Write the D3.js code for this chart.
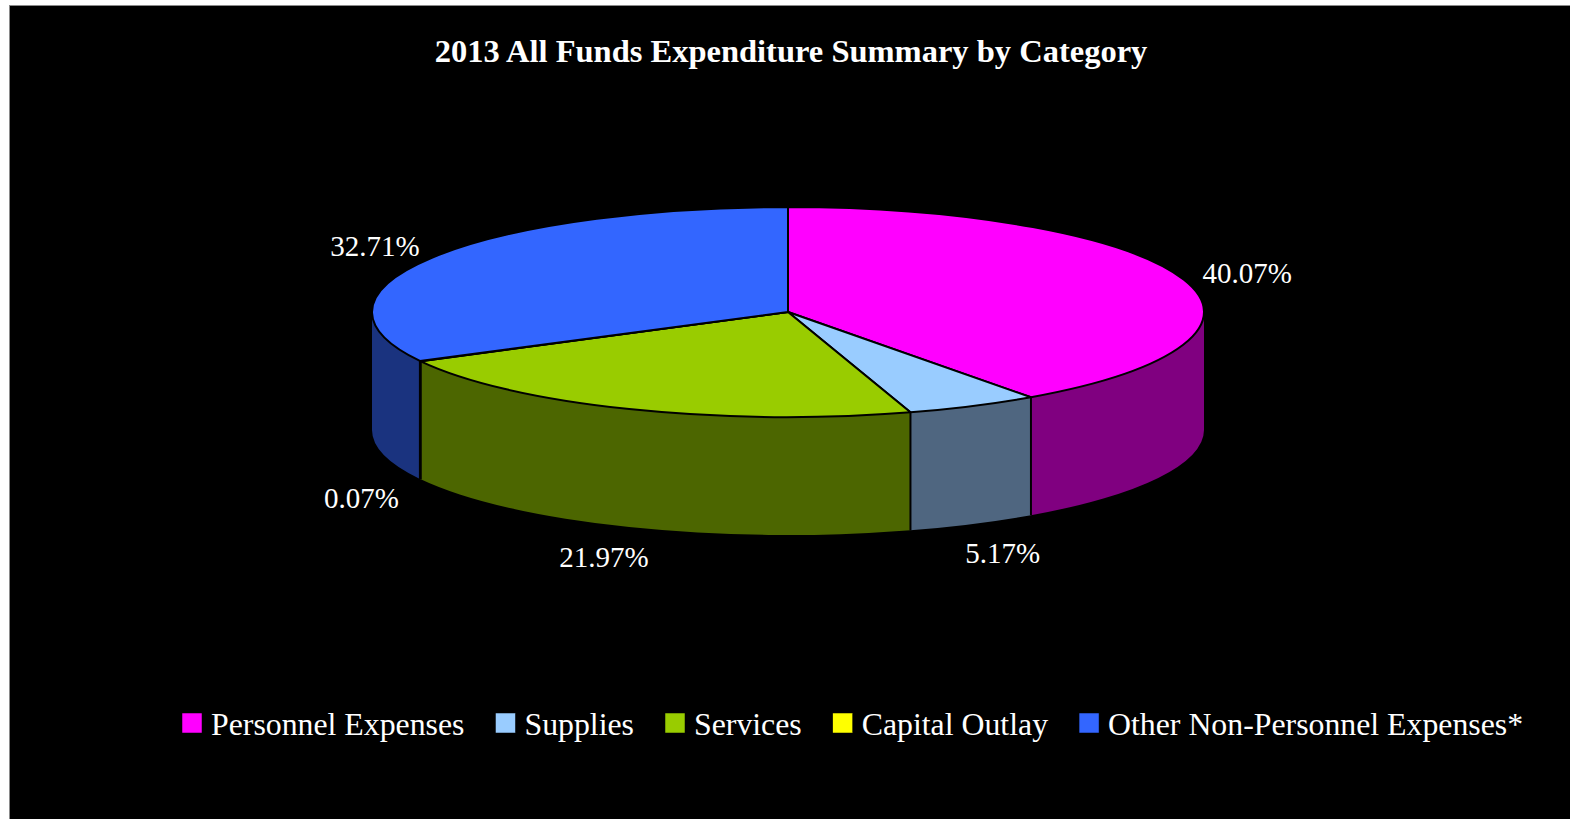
<!DOCTYPE html>
<html>
<head>
<meta charset="utf-8">
<script src="https://cdn.jsdelivr.net/npm/d3@7"></script>
<style>
  html, body { margin: 0; padding: 0; background: #ffffff; }
  svg { display: block; }
  text { font-family: "Liberation Serif", "Times New Roman", serif; fill: #ffffff; }
</style>
</head>
<body>
<svg id="chart" width="1570" height="819"></svg>
<script>
// ---- data ----
const title = "2013 All Funds Expenditure Summary by Category";
const categories = ["Personnel Expenses", "Supplies", "Services", "Capital Outlay", "Other Non-Personnel Expenses*"];
const values = [40.07, 5.17, 21.97, 0.07, 32.71];
const topColors = ["#FF00FF", "#99CCFF", "#99CC00", "#FFFF00", "#3366FF"];
const sideColors = ["#800080", "#4F6680", "#4C6600", "#808000", "#1A337F"];

// ---- layout ----
const W = 1570, H = 819;
const cx = 788, cy = 312, rx = 416, ry = 105, depth = 118;

const svg = d3.select("#chart");
svg.append("rect").attr("x", 0).attr("y", 0).attr("width", W).attr("height", H).attr("fill", "#ffffff");
svg.append("rect").attr("x", 9.5).attr("y", 5.5).attr("width", W).attr("height", H)
  .attr("fill", "#000000").attr("stroke", "#8a8a8a").attr("stroke-width", 1);

svg.append("text").attr("x", 791).attr("y", 62).attr("text-anchor", "middle")
  .attr("font-size", 32.5).attr("font-weight", "bold").text(title);

const topColor = d3.scaleOrdinal().domain(categories).range(topColors);
const sideColor = d3.scaleOrdinal().domain(categories).range(sideColors);

const pie = d3.pie().sort(null).value(d => d.v).startAngle(0).endAngle(2 * Math.PI);
const arcs = pie(categories.map((c, i) => ({ c, v: values[i] })));

const pt = (a, dy = 0) => [cx + rx * Math.sin(a), cy - ry * Math.cos(a) + dy];

// walls (front half only)
const g = svg.append("g");
arcs.forEach(a => {
  const s = Math.max(a.startAngle, Math.PI / 2);
  const e = Math.min(a.endAngle, 3 * Math.PI / 2);
  if (e <= s) return;
  const p0 = pt(s), p1 = pt(e), p2 = pt(e, depth), p3 = pt(s, depth);
  const large = (e - s) > Math.PI ? 1 : 0;
  const d = `M${p0}A${rx},${ry} 0 ${large} 1 ${p1}L${p2}A${rx},${ry} 0 ${large} 0 ${p3}Z`;
  g.append("path").attr("d", d).attr("fill", sideColor(a.data.c)).attr("stroke", "none");
});
// vertical divider lines on the wall
arcs.forEach(a => {
  const ang = a.endAngle;
  if (ang > Math.PI / 2 && ang < 3 * Math.PI / 2) {
    const p0 = pt(ang), p1 = pt(ang, depth);
    g.append("line").attr("x1", p0[0]).attr("y1", p0[1]).attr("x2", p1[0]).attr("y2", p1[1])
      .attr("stroke", "#000").attr("stroke-width", 2);
  }
});
// top faces
arcs.forEach(a => {
  const p0 = pt(a.startAngle), p1 = pt(a.endAngle);
  const large = (a.endAngle - a.startAngle) > Math.PI ? 1 : 0;
  const d = `M${cx},${cy}L${p0}A${rx},${ry} 0 ${large} 1 ${p1}Z`;
  g.append("path").attr("d", d).attr("fill", topColor(a.data.c))
    .attr("stroke", "#000").attr("stroke-width", 2).attr("stroke-linejoin", "round");
});

// data labels
const fmt = v => v.toFixed(2) + "%";
arcs.forEach(a => {
  const m = (a.startAngle + a.endAngle) / 2;
  const x = cx + rx * 1.16 * Math.sin(m);
  let y = cy - ry * 1.22 * Math.cos(m);
  if (Math.cos(m) < 0) y += depth + 8;
  svg.append("text").attr("x", x).attr("y", y).attr("dy", "0.35em")
    .attr("text-anchor", "middle").attr("font-size", 29).text(fmt(a.data.v));
});

// legend
const lg = svg.append("g").attr("transform", "translate(182,0)");
let lx = 0;
categories.forEach((c, i) => {
  lg.append("rect").attr("x", lx).attr("y", 713).attr("width", 20).attr("height", 20)
    .attr("fill", topColor(c)).attr("stroke", "#000").attr("stroke-width", 0.5);
  const t = lg.append("text").attr("x", lx + 29).attr("y", 735).attr("font-size", 31.8).text(c);
  lx += 29 + t.node().getComputedTextLength() + 31;
});
</script>
</body>
</html>
